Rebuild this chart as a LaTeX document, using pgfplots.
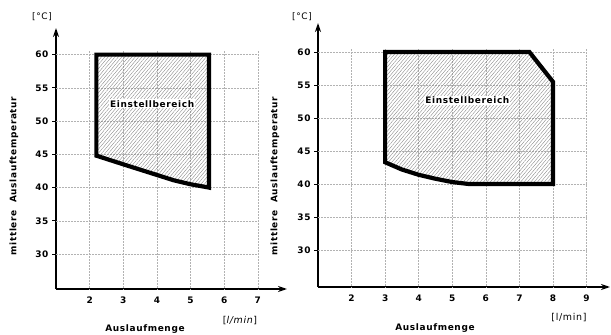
\documentclass[border=0pt]{standalone}
\usepackage{fontspec}
\setmainfont{DejaVu Sans}[LetterSpace=7]
\usepackage{pgfplots}
\pgfplotsset{compat=1.18}
\usetikzlibrary{patterns.meta,arrows.meta}
\pgfplotsset{
  myax/.style={
    scale only axis,
    axis x line=bottom, axis y line=left,
    axis line style={line width=2pt, -{Stealth[length=9pt,width=6pt]}},
    tick align=outside, major tick length=4pt,
    ytick style={line width=0.9pt,black},
    xtick style={draw=none},
    ticklabel style={font=\bfseries\fontsize{9}{10}\selectfont},
    /pgf/number format/assume math mode=true,
    ytick={30,35,...,60},
    clip=false,
  },
  region/.style={draw=black, line width=4.2pt, line join=miter,
    pattern={Lines[angle=50,distance=2.6pt,line width=0.35pt]}, pattern color=black!50},
}
\tikzset{gridst/.style={gray!60, densely dotted, line width=0.5pt}}
\begin{document}
\begin{tikzpicture}
\path[use as bounding box] (0,0) rectangle (611bp,335bp);
% left chart
\begin{axis}[myax, at={(56bp,46bp)}, anchor=south west,
  width=231bp, height=261bp,
  xmin=1, xmax=7.87, ymin=24.75, ymax=64,
  xtick={2,...,7}]
\pgfplotsinvokeforeach{2,...,7}{\draw[gridst] (axis cs:#1,24.75) -- (axis cs:#1,60.5);}
\pgfplotsinvokeforeach{30,35,...,60}{\draw[gridst] (axis cs:1,#1) -- (axis cs:7,#1);}
\addplot[region] coordinates {(2.2,60)(5.55,60)(5.55,40)(5.5,40.05)(5,40.5)(4.5,41.1)(4,41.9)(3.5,42.7)(3,43.5)(2.2,44.8)} -- cycle;
\node[fill=white, inner sep=1pt, font=\bfseries\fontsize{9}{10}\selectfont] at (axis cs:3.86,52.6) {Einstellbereich};
\end{axis}
% right chart
\begin{axis}[myax, at={(318bp,48bp)}, anchor=south west,
  width=292bp, height=264bp,
  xmin=1, xmax=9.7, ymin=24.4, ymax=64.4,
  xtick={2,...,9}]
\pgfplotsinvokeforeach{2,...,9}{\draw[gridst] (axis cs:#1,24.4) -- (axis cs:#1,60.5);}
\pgfplotsinvokeforeach{30,35,...,60}{\draw[gridst] (axis cs:1,#1) -- (axis cs:9,#1);}
\addplot[region] coordinates {(3,60)(7.3,60)(8,55.5)(8,40)(5.5,40)(5,40.3)(4.5,40.8)(4,41.4)(3.5,42.2)(3,43.3)} -- cycle;
\node[fill=white, inner sep=1pt, font=\bfseries\fontsize{9}{10}\selectfont] at (axis cs:5.45,52.7) {Einstellbereich};
\end{axis}
% labels
\node[font=\fontsize{9}{10}\selectfont] at (42bp,318bp) {[°C]};
\node[font=\fontsize{9}{10}\selectfont] at (302bp,318bp) {[°C]};
\node[font=\fontsize{9.5}{10}\selectfont] at (240bp,14bp) {[\textit{l/min}]};
\node[font=\fontsize{9.5}{10}\selectfont] at (569bp,17bp) {[l/min]};
\node[font=\bfseries\fontsize{9}{10}\selectfont] at (145bp,6bp) {Auslaufmenge};
\node[font=\bfseries\fontsize{9}{10}\selectfont] at (435bp,7bp) {Auslaufmenge};
\node[rotate=90, font=\bfseries\fontsize{9}{10}\selectfont] at (14bp,159bp) {mittlere\ \ Auslauftemperatur};
\node[rotate=90, font=\bfseries\fontsize{9}{10}\selectfont] at (275bp,159bp) {mittlere\ \ Auslauftemperatur};
\end{tikzpicture}
\end{document}
